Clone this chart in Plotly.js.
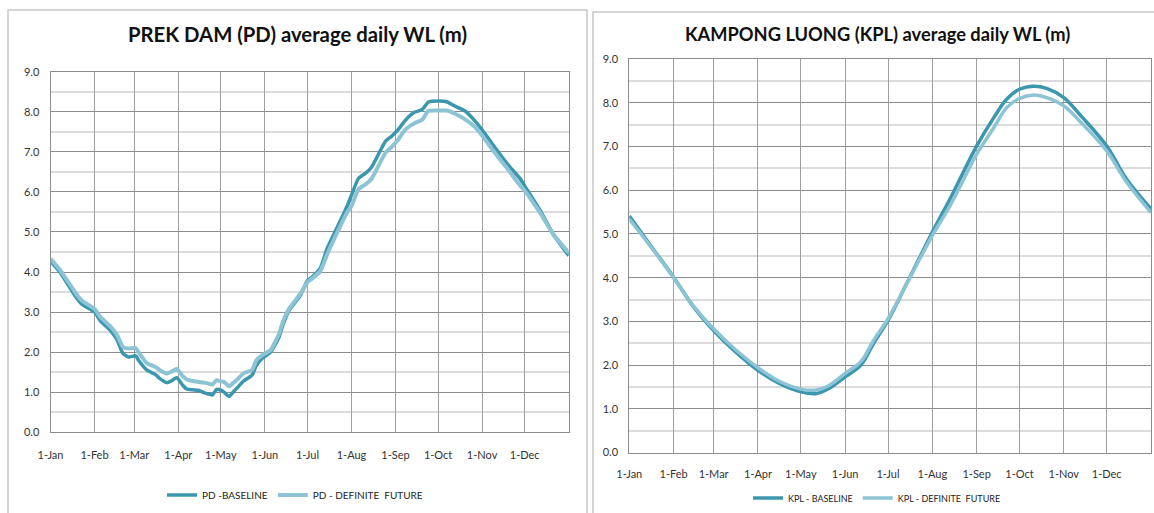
<!DOCTYPE html>
<html>
<head>
<meta charset="utf-8">
<script src="https://cdn.plot.ly/plotly-3.0.1.min.js"></script>
<style>
html,body{margin:0;padding:0;background:#fff;}
#chart{width:1154px;height:513px;}
</style>
</head>
<body>
<div id="chart"></div>
<script>
// ---- Data (day of year, 0 = 1-Jan) ----
const monthStartDays = [0,31,59,90,120,151,181,212,243,273,304,334];
const monthLabels = ['1-Jan','1-Feb','1-Mar','1-Apr','1-May','1-Jun','1-Jul','1-Aug','1-Sep','1-Oct','1-Nov','1-Dec'];

// PREK DAM (PD)
const pdDays     = [0,7,18,22,31,35,42,47,51,55,60,62,68,74,77,82,85,89,93,96,100,104,108,112,114,117,120,122,125,126,129,131,136,142,145,149,155,161,164,168,176,181,184,190,195,202,209,212,217,222,226,231,236,240,245,250,256,262,266,274,279,285,292,298,304,312,322,331,334,345,354,365];
const pdBaseline = [4.27,3.98,3.37,3.20,3.00,2.79,2.55,2.30,1.97,1.88,1.91,1.80,1.55,1.44,1.34,1.24,1.28,1.36,1.18,1.08,1.06,1.05,0.99,0.95,0.93,1.07,1.05,1.01,0.91,0.90,1.02,1.09,1.28,1.43,1.67,1.84,2.00,2.38,2.71,3.04,3.42,3.79,3.87,4.10,4.60,5.12,5.65,5.92,6.34,6.47,6.61,6.94,7.27,7.38,7.56,7.79,7.98,8.06,8.24,8.27,8.25,8.14,8.02,7.81,7.55,7.16,6.69,6.32,6.15,5.53,4.95,4.41];
const pdFuture   = [4.33,4.04,3.46,3.29,3.08,2.88,2.65,2.42,2.13,2.09,2.10,2.00,1.72,1.63,1.55,1.47,1.51,1.58,1.41,1.32,1.28,1.26,1.24,1.21,1.19,1.30,1.27,1.26,1.17,1.15,1.24,1.30,1.47,1.56,1.80,1.92,2.05,2.46,2.79,3.08,3.46,3.75,3.83,4.02,4.45,4.99,5.49,5.65,6.07,6.19,6.32,6.65,6.98,7.11,7.31,7.56,7.71,7.81,8.02,8.03,8.03,7.95,7.81,7.65,7.41,7.02,6.57,6.15,6.03,5.47,4.95,4.48];

// KAMPONG LUONG (KPL)
const kplDays     = [0,15,31,45,59,73,90,105,120,131,140,151,162,171,181,194,212,225,243,255,264,273,283,292,304,316,334,348,365];
const kplBaseline = [5.41,4.73,4.01,3.33,2.79,2.34,1.88,1.58,1.39,1.35,1.47,1.73,2.00,2.50,3.02,3.86,5.04,5.84,7.01,7.66,8.08,8.31,8.38,8.33,8.12,7.70,7.01,6.25,5.57];
const kplFuture   = [5.34,4.71,4.00,3.35,2.83,2.39,1.94,1.63,1.45,1.43,1.54,1.81,2.08,2.57,3.06,3.86,4.96,5.68,6.82,7.43,7.89,8.10,8.18,8.12,7.93,7.55,6.90,6.18,5.49];

const titles = ['PREK DAM (PD) average daily WL (m)', 'KAMPONG LUONG (KPL) average daily WL (m)'];
const names = ['PD -BASELINE','PD - DEFINITE  FUTURE','KPL - BASELINE','KPL - DEFINITE  FUTURE'];

// ---- Styling ----
const W = 1154, H = 513;
const darkC = '#3b97ae', lightC = '#8dc4d5';
const FONT = 'Lato, "Open Sans", sans-serif';
const px = v => v / W, py = v => 1 - v / H;

const traces = [
  {x: pdDays, y: pdBaseline, name: names[0], xaxis:'x', yaxis:'y', legend:'legend', mode:'lines',
   line:{color:darkC, width:3.5, shape:'spline', smoothing:0.5}},
  {x: pdDays, y: pdFuture, name: names[1], xaxis:'x', yaxis:'y', legend:'legend', mode:'lines',
   line:{color:lightC, width:4, shape:'spline', smoothing:0.5}},
  {x: kplDays, y: kplBaseline, name: names[2], xaxis:'x2', yaxis:'y2', legend:'legend2', mode:'lines',
   line:{color:darkC, width:3.5, shape:'spline', smoothing:1}},
  {x: kplDays, y: kplFuture, name: names[3], xaxis:'x2', yaxis:'y2', legend:'legend2', mode:'lines',
   line:{color:lightC, width:3.5, shape:'spline', smoothing:1}}
];

function xax(domain, anchor, standoff){
  return {domain: domain, anchor: anchor, range:[0,365], tickmode:'array',
    tickvals: monthStartDays, ticktext: monthLabels, showgrid:true, gridcolor:'#a0a0a0', gridwidth:1,
    showline:true, mirror:true, linecolor:'#8c8c8c', linewidth:1, zeroline:false, ticks:'',
    ticklabelstandoff: standoff, tickfont:{family:FONT, size:11, color:'#333'}, fixedrange:true};
}
function yax(domain, anchor){
  return {domain: domain, anchor: anchor, range:[0,9], dtick:1, tick0:0, tickformat:'.1f',
    showgrid:true, gridcolor:'#8c8c8c', gridwidth:1,
    minor:{dtick:0.5, showgrid:true, gridcolor:'#dcdcdc', gridwidth:2},
    showline:true, mirror:true, linecolor:'#8c8c8c', linewidth:1, zeroline:false, ticks:'',
    ticklabelstandoff: 8, tickfont:{family:FONT, size:11, color:'#333'}, fixedrange:true};
}

const layout = {
  width: W, height: H, margin:{l:0,r:0,t:0,b:0},
  paper_bgcolor:'#fff', plot_bgcolor:'#fff',
  font:{family:FONT, color:'#222'},
  xaxis:  xax([px(50.5), px(568.7)], 'y', 12),
  yaxis:  yax([py(434), py(72)], 'x'),
  xaxis2: xax([px(629.3), px(1151)], 'y2', 11),
  yaxis2: yax([py(454.3), py(59.3)], 'x2'),
  legend: {orientation:'h', x:px(162), y:py(497), xanchor:'left', yanchor:'middle',
    font:{family:FONT, size:10, color:'#222'}, bgcolor:'rgba(0,0,0,0)', itemwidth:30, tracegroupgap:0},
  legend2: {orientation:'h', x:px(748), y:py(500), xanchor:'left', yanchor:'middle',
    font:{family:FONT, size:9, color:'#222'}, bgcolor:'rgba(0,0,0,0)', itemwidth:30, tracegroupgap:0},
  annotations: [
    {text:'<b>'+titles[0]+'</b>', x:px(297), y:py(34), xref:'paper', yref:'paper', showarrow:false,
     xanchor:'center', yanchor:'middle', font:{family:FONT, size:20.3, color:'#111'}},
    {text:'<b>'+titles[1]+'</b>', x:px(877.6), y:py(34), xref:'paper', yref:'paper', showarrow:false,
     xanchor:'center', yanchor:'middle', font:{family:FONT, size:18.3, color:'#111'}}
  ],
  shapes: [
    {type:'rect', xref:'paper', yref:'paper', x0:px(8), x1:px(587), y0:py(520), y1:py(10),
     line:{color:'#c8c8c8', width:1.5}, fillcolor:'rgba(0,0,0,0)', layer:'below'},
    {type:'rect', xref:'paper', yref:'paper', x0:px(593), x1:px(1160), y0:py(520), y1:py(12),
     line:{color:'#c8c8c8', width:1.5}, fillcolor:'rgba(0,0,0,0)', layer:'below'}
  ]
};

Plotly.newPlot('chart', traces, layout, {displayModeBar:false, staticPlot:true});
</script>
</body>
</html>
